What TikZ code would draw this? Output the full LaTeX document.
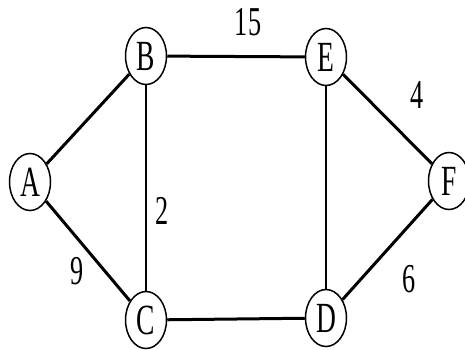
\documentclass[tikz,border=0pt]{standalone}
\usepackage{fontspec}
\setmainfont{Liberation Serif}
\usetikzlibrary{shapes.geometric}
\begin{document}
\begin{tikzpicture}[x=1pt,y=-1pt,
  vert/.style={draw,ellipse,line width=1.5pt,fill=white,minimum width=41pt,minimum height=57pt,inner sep=0pt,
    font=\fontsize{43}{43}\selectfont},
  thick edge/.style={line width=3pt},
  thin edge/.style={line width=2.1pt},
  wlabel/.style={font=\fontsize{41}{41}\selectfont,inner sep=0pt}]
\useasboundingbox (0,0) rectangle (465,349);
\path (30,182) coordinate (pA) (146,56) coordinate (pB) (326,57) coordinate (pE)
      (449,181) coordinate (pF) (146,320) coordinate (pC) (326,318) coordinate (pD);
\node[vert] (A) at (pA) {\scalebox{0.64}[1]{A}};
\node[vert] (B) at (pB) {\scalebox{0.64}[1]{B}};
\node[vert] (E) at (pE) {\scalebox{0.64}[1]{E}};
\node[vert] (F) at (pF) {\scalebox{0.64}[1]{F}};
\node[vert] (C) at (pC) {\scalebox{0.64}[1]{C}};
\node[vert] (D) at (pD) {\scalebox{0.64}[1]{D}};
\draw[thick edge] (A) -- (B);
\draw[thick edge] (A) -- (C);
\draw[thin edge] (B) -- (C);
\draw[thick edge] (B) -- (E);
\draw[thin edge] (E) -- (D);
\draw[thick edge] (C) -- (D);
\draw[thick edge] (E) -- (F);
\draw[thick edge] (D) -- (F);
\node[wlabel] (l15) at (248,22) {\scalebox{0.64}[1]{15}};
\node[wlabel] (l4) at (417,95) {\scalebox{0.64}[1]{4}};
\node[wlabel] (l2) at (162,211) {\scalebox{0.64}[1]{2}};
\node[wlabel] (l9) at (77,271) {\scalebox{0.64}[1]{9}};
\node[wlabel] (l6) at (409,279) {\scalebox{0.64}[1]{6}};
\end{tikzpicture}
\end{document}
